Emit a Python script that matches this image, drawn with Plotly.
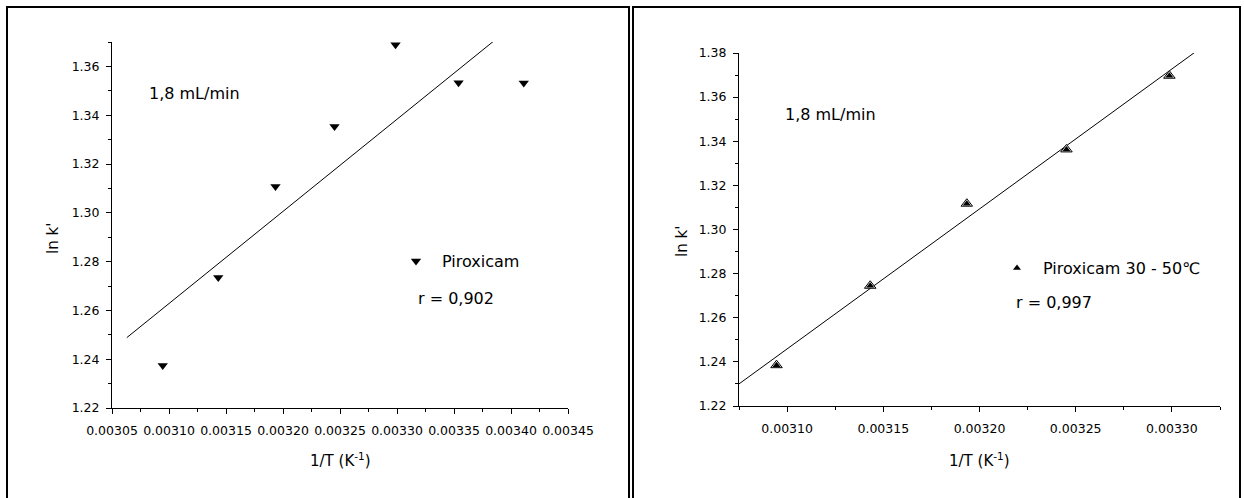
import numpy as np
import plotly.graph_objects as go

# Retention data: reciprocal temperature (1/K) vs ln k'
inv_T = [0.0030945, 0.0031432, 0.0031934, 0.0032452, 0.0032987, 0.0033540, 0.0034112]
ln_k = [1.2374, 1.2735, 1.3108, 1.3354, 1.3689, 1.3533, 1.3532]

# 30 - 50 °C subset
inv_T_30_50 = [0.0030945, 0.0031432, 0.0031934, 0.0032452, 0.0032987]
ln_k_30_50 = [1.2385, 1.2745, 1.3117, 1.3363, 1.3697]

# x spans over which the fitted lines are drawn
fit_span_all = [0.003063, 0.00345]
fit_span_30_50 = [0.003075, 0.003325]

flow_label = "1,8 mL/min"
r_all = "r = 0,902"
r_30_50 = "r = 0,997"

W, H = 1244, 498
FONT = "DejaVu Sans"


def px(x):
    return x / W


def py(y):
    return 1 - y / H


slope_a, icpt_a = np.polyfit(inv_T, ln_k, 1)
slope_b, icpt_b = np.polyfit(inv_T_30_50, ln_k_30_50, 1)
fit_x_a = np.array(fit_span_all)
fit_x_b = np.array(fit_span_30_50)

fig = go.Figure()

# left panel
fig.add_trace(go.Scatter(x=fit_x_a, y=slope_a * fit_x_a + icpt_a, mode="lines",
                         line=dict(color="black", width=1), showlegend=False,
                         xaxis="x", yaxis="y", hoverinfo="skip"))
fig.add_trace(go.Scatter(x=inv_T, y=ln_k, mode="markers", name="Piroxicam",
                         marker=dict(symbol="triangle-down", size=9, color="black"),
                         xaxis="x", yaxis="y", legend="legend"))

# right panel
fig.add_trace(go.Scatter(x=fit_x_b, y=slope_b * fit_x_b + icpt_b, mode="lines",
                         line=dict(color="black", width=1), showlegend=False,
                         xaxis="x2", yaxis="y2", hoverinfo="skip"))
fig.add_trace(go.Scatter(x=inv_T_30_50, y=ln_k_30_50, mode="markers", showlegend=False,
                         marker=dict(symbol="triangle-up", size=10, color="white",
                                     line=dict(color="black", width=1)),
                         xaxis="x2", yaxis="y2"))
fig.add_trace(go.Scatter(x=inv_T_30_50, y=ln_k_30_50, mode="markers",
                         name="Piroxicam 30 - 50\u2103",
                         marker=dict(symbol="triangle-up", size=7, color="black"),
                         xaxis="x2", yaxis="y2", legend="legend2"))

tickfont = dict(family=FONT, size=12.5, color="black")
common = dict(showline=True, linecolor="black", linewidth=1, ticks="outside",
              ticklen=5, tickwidth=1, tickcolor="black", tickfont=tickfont,
              showgrid=False, zeroline=False, mirror=False, fixedrange=True,
              automargin=False)

fig.update_layout(
    width=W, height=H, autosize=False,
    margin=dict(l=0, r=0, t=0, b=0, pad=0, autoexpand=False),
    paper_bgcolor="white", plot_bgcolor="white",
    font=dict(family=FONT, color="black"),
    xaxis=dict(domain=[px(112), px(568)], range=[0.00305, 0.00345],
               tick0=0.00305, dtick=0.00005, tickformat=".5f", anchor="y",
               ticklabelstandoff=6,
               minor=dict(dtick=0.000025, ticks="outside", ticklen=3, tickcolor="black"),
               **common),
    yaxis=dict(domain=[py(408), py(42)], range=[1.22, 1.37],
               tick0=1.22, dtick=0.02, tickformat=".2f", anchor="x",
               ticklabelstandoff=4,
               minor=dict(dtick=0.01, ticks="outside", ticklen=3, tickcolor="black"),
               **common),
    xaxis2=dict(domain=[px(739), px(1220)], range=[0.003075, 0.003325],
                tick0=0.0031, dtick=0.00005, tickformat=".5f", anchor="y2",
                ticklabelstandoff=6,
                minor=dict(dtick=0.000025, ticks="outside", ticklen=3, tickcolor="black"),
                **common),
    yaxis2=dict(domain=[py(406), py(53)], range=[1.22, 1.38],
                tick0=1.22, dtick=0.02, tickformat=".2f", anchor="x2",
                ticklabelstandoff=4,
                minor=dict(dtick=0.01, ticks="outside", ticklen=3, tickcolor="black"),
                **common),
    legend=dict(x=px(390), y=py(261), xanchor="left", yanchor="middle",
                itemwidth=42, bgcolor="rgba(0,0,0,0)", borderwidth=0,
                font=dict(family=FONT, size=16, color="black")),
    legend2=dict(x=px(991), y=py(268), xanchor="left", yanchor="middle",
                 itemwidth=42, bgcolor="rgba(0,0,0,0)", borderwidth=0,
                 font=dict(family=FONT, size=16, color="black")),
)

# frames around both panels
for x0, x1 in [(7, 629), (633, 1240)]:
    fig.add_shape(type="rect", xref="paper", yref="paper",
                  x0=px(x0), x1=px(x1), y0=-0.2, y1=py(7),
                  line=dict(color="black", width=2), fillcolor="rgba(0,0,0,0)")

ann = []
title_font = dict(family=FONT, size=15, color="black")
text_font = dict(family=FONT, size=16, color="black")
# axis titles
for xc, yc in [(340, 460), (979.5, 460)]:
    ann.append(dict(text="1/T (K<sup>-1</sup>)", x=px(xc), y=py(yc), xref="paper", yref="paper",
                    xanchor="center", yanchor="middle", showarrow=False, font=title_font))
for xc, yc in [(53, 239), (682, 242)]:
    ann.append(dict(text="ln k'", x=px(xc), y=py(yc), xref="paper", yref="paper",
                    textangle=-90, xanchor="center", yanchor="middle", showarrow=False,
                    font=title_font))
# panel notes
for txt, xl, yc in [(flow_label, 147, 93), (r_all, 416, 298),
                    (flow_label, 783, 115), (r_30_50, 1014, 302.7)]:
    ann.append(dict(text=txt, x=px(xl), y=py(yc), xref="paper", yref="paper",
                    xanchor="left", yanchor="middle", showarrow=False, font=text_font))
fig.update_layout(annotations=ann)

fig.write_html("out.html")
